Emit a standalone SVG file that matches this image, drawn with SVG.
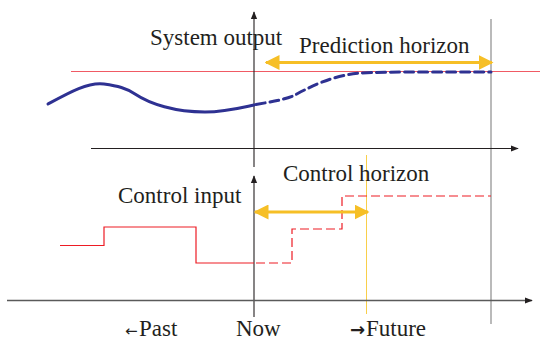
<svg xmlns="http://www.w3.org/2000/svg" width="540" height="340" viewBox="0 0 540 340">
  <style>
    .lbl { font-family: "Liberation Serif", "Times New Roman", serif; font-size: 23px; fill: #231f20; }
    .arw { font-family: "DejaVu Sans", sans-serif; }
    .axis { stroke: #231f20; stroke-width: 1.1; fill: none; }
    .horizon { stroke: #f6bf26; stroke-width: 3; fill: none; }
    .out { stroke: #2e3192; stroke-width: 3; fill: none; stroke-linecap: round; }
    .inp { stroke: #ed1c24; stroke-width: 1.2; fill: none; }
  </style>
  <defs>
    <marker id="axHead" viewBox="0 0 10 10" refX="9" refY="5" markerWidth="8" markerHeight="8" markerUnits="userSpaceOnUse" orient="auto">
      <path d="M0,1 L10,5 L0,9 Z" fill="#231f20"/>
    </marker>
    <marker id="yHead" viewBox="0 0 10 10" refX="9" refY="5" markerWidth="5" markerHeight="5" orient="auto-start-reverse">
      <path d="M0,0 L10,5 L0,10 Z" fill="#f6bf26"/>
    </marker>
  </defs>

  <!-- reference lines -->
  <g id="setpoint">
    <line x1="71" y1="71.5" x2="540" y2="71.5" stroke="#f05a64" stroke-width="1.1"/>
  </g>
  <g id="end-of-prediction">
    <line x1="491" y1="19" x2="491" y2="324" stroke="#8c8c8c" stroke-width="1.2"/>
  </g>
  <g id="end-of-control">
    <line x1="366.5" y1="155" x2="366.5" y2="314" stroke="#f9cf4a" stroke-width="1"/>
  </g>

  <!-- axes -->
  <g id="axes">
    <line class="axis" x1="254" y1="167" x2="254" y2="12" marker-end="url(#axHead)"/>
    <line class="axis" x1="91" y1="148.5" x2="518" y2="148.5" marker-end="url(#axHead)"/>
    <line class="axis" x1="254" y1="317" x2="254" y2="176" marker-end="url(#axHead)"/>
    <line x1="7" y1="300.5" x2="532" y2="300.5" stroke="#5a5a5a" stroke-width="1.4" marker-end="url(#axHead)"/>
  </g>

  <!-- system output: measured past, predicted future -->
  <g id="output">
    <path class="out" d="M48,104 C70,92 88,82 104,84 C118,86 126,88 135,94 C150,104 175,112 205,112 C225,112 240,108 254,105"/>
    <path class="out" stroke-dasharray="9 5" stroke-linecap="butt" d="M256,104.5 C270,102 283,100 293,96 C310,87 330,76 360,73 C390,71.5 450,72 491,72"/>
  </g>

  <!-- control input: applied past, planned future -->
  <g id="input">
    <path class="inp" d="M60,245.5 H104 V227 H196 V263 H254"/>
    <path class="inp" stroke-dasharray="9 4" d="M256,263 H292 V229 H342 V196 H491"/>
  </g>

  <!-- horizons -->
  <g id="connectors">
    <line class="horizon" x1="266" y1="62.5" x2="492" y2="62.5" marker-start="url(#yHead)" marker-end="url(#yHead)"/>
    <line class="horizon" x1="255" y1="212" x2="368" y2="212" marker-start="url(#yHead)" marker-end="url(#yHead)"/>
  </g>

  <!-- labels -->
  <g id="labels">
    <text class="lbl" x="125" y="336"><tspan class="arw" font-size="15">←</tspan><tspan x="139">Past</tspan></text>
    <text class="lbl" x="150" y="45">System output</text>
    <text class="lbl" x="299" y="53">Prediction horizon</text>
    <text class="lbl" x="283" y="181">Control horizon</text>
    <text class="lbl" x="118" y="203">Control input</text>
    <text class="lbl" x="236" y="336">Now</text>
    <text class="lbl" x="350" y="336"><tspan class="arw" font-size="18" font-weight="bold">→</tspan><tspan x="366">Future</tspan></text>
  </g>
</svg>
